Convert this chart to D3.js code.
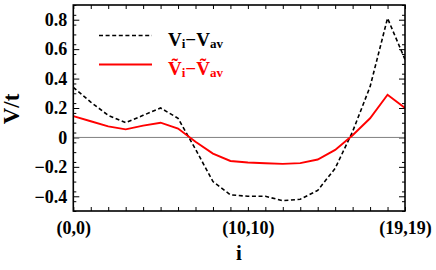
<!DOCTYPE html>
<html>
<head>
<meta charset="utf-8">
<script src="https://cdn.jsdelivr.net/npm/d3@7"></script>
<style>
  body { margin: 0; background: #fff; }
  text { font-family: "Liberation Serif", "Times New Roman", serif; font-weight: bold; }
</style>
</head>
<body>
<div id="chart"></div>
<script>
// site index along the diagonal (0,0) -> (19,19)
var sites = [0, 1, 2, 3, 4, 5, 6, 7, 8, 9, 10, 11, 12, 13, 14, 15, 16, 17, 18, 19];
var vDiff = [0.34, 0.24, 0.15, 0.10, 0.15, 0.20, 0.13, -0.08, -0.30, -0.39,
             -0.40, -0.40, -0.43, -0.42, -0.36, -0.21, 0.04, 0.345, 0.81, 0.53];
var vTildeDiff = [0.145, 0.11, 0.075, 0.055, 0.08, 0.10, 0.06, -0.03, -0.11, -0.16,
                  -0.17, -0.175, -0.18, -0.175, -0.15, -0.085, 0.015, 0.13, 0.29, 0.20];
var xTickValues = [0, 10, 19];
var xTickLabels = ["(0,0)", "(10,10)", "(19,19)"];
var yTickValues = [-0.4, -0.2, 0, 0.2, 0.4, 0.6, 0.8];

var width = 436, height = 270;
var plotLeft = 73.3, plotRight = 405, plotTop = 5, plotBottom = 211;

var svg = d3.select("#chart").append("svg")
    .attr("width", width)
    .attr("height", height);

var x = d3.scaleLinear().domain([0, 19]).range([plotLeft, plotRight]);
var y = d3.scaleLinear().domain([-0.5, 0.9]).range([plotBottom, plotTop]);

var fmt = function (d) { return d === 0 ? "0" : d3.format(".1f")(d); };
var minorY = d3.range(-0.5, 0.9001, 0.2 / 3);

// minor ticks (left and right)
svg.append("g")
    .attr("transform", "translate(" + plotLeft + ",0)")
    .call(d3.axisLeft(y).tickValues(minorY).tickSize(-3).tickFormat(""))
    .call(function (g) { g.select(".domain").remove(); });
svg.append("g")
    .attr("transform", "translate(" + plotRight + ",0)")
    .call(d3.axisRight(y).tickValues(minorY).tickSize(-3).tickFormat(""))
    .call(function (g) { g.select(".domain").remove(); });

// major y ticks
svg.append("g")
    .attr("class", "y axis")
    .attr("transform", "translate(" + plotLeft + ",0)")
    .call(d3.axisLeft(y).tickValues(yTickValues).tickSize(-6).tickPadding(6).tickFormat(fmt))
    .call(function (g) {
        g.select(".domain").remove();
        g.selectAll("text").style("font-size", "18px").attr("fill", "#000");
    });
svg.append("g")
    .attr("transform", "translate(" + plotRight + ",0)")
    .call(d3.axisRight(y).tickValues(yTickValues).tickSize(-6).tickFormat(""))
    .call(function (g) { g.select(".domain").remove(); });

// x ticks at every site, labels at three of them
svg.append("g")
    .attr("class", "x axis")
    .attr("transform", "translate(0," + plotBottom + ")")
    .call(d3.axisBottom(x).tickValues(sites).tickSize(-4).tickPadding(10)
        .tickFormat(function (d) {
            var k = xTickValues.indexOf(d);
            return k >= 0 ? xTickLabels[k] : "";
        }))
    .call(function (g) {
        g.select(".domain").remove();
        g.selectAll("text").style("font-size", "18px").attr("fill", "#000");
    });
svg.append("g")
    .attr("transform", "translate(0," + plotTop + ")")
    .call(d3.axisTop(x).tickValues(sites).tickSize(-4).tickFormat(""))
    .call(function (g) { g.select(".domain").remove(); });

svg.selectAll(".tick line").attr("stroke", "#000").attr("stroke-width", 1);

// zero line
svg.append("line")
    .attr("x1", plotLeft).attr("x2", plotRight)
    .attr("y1", y(0)).attr("y2", y(0))
    .attr("stroke", "#808080")
    .attr("stroke-width", 1);

svg.append("clipPath").attr("id", "clip")
    .append("rect")
    .attr("x", plotLeft).attr("y", plotTop)
    .attr("width", plotRight - plotLeft).attr("height", plotBottom - plotTop);

var line = d3.line()
    .x(function (d, i) { return x(sites[i]); })
    .y(function (d) { return y(d); });

svg.append("path")
    .datum(vDiff)
    .attr("clip-path", "url(#clip)")
    .attr("fill", "none")
    .attr("stroke", "#000")
    .attr("stroke-width", 1.6)
    .attr("stroke-dasharray", "4,2.6")
    .attr("d", line);

svg.append("path")
    .datum(vTildeDiff)
    .attr("clip-path", "url(#clip)")
    .attr("fill", "none")
    .attr("stroke", "#ff0000")
    .attr("stroke-width", 1.9)
    .attr("d", line);

// frame
svg.append("rect")
    .attr("x", plotLeft).attr("y", plotTop)
    .attr("width", plotRight - plotLeft).attr("height", plotBottom - plotTop)
    .attr("fill", "none")
    .attr("stroke", "#000")
    .attr("stroke-width", 1.6);

// axis titles
svg.append("text")
    .attr("transform", "translate(19,109) rotate(-90)")
    .attr("text-anchor", "middle")
    .style("font-size", "23px")
    .text("V/t");

svg.append("text")
    .attr("x", 239)
    .attr("y", 260)
    .attr("text-anchor", "middle")
    .style("font-size", "21px")
    .text("i");

// legend
var legendItems = [
    { base: "V", color: "#000", dash: "4,2.6", y: 35.5 },
    { base: "V\u0303", color: "#ff0000", dash: null, y: 64.5 }
];

var legend = svg.selectAll(".legend")
    .data(legendItems)
    .enter().append("g")
    .attr("class", "legend");

legend.append("line")
    .attr("x1", 99).attr("x2", 152)
    .attr("y1", function (d) { return d.y; })
    .attr("y2", function (d) { return d.y; })
    .attr("stroke", function (d) { return d.color; })
    .attr("stroke-width", function (d) { return d.dash ? 1.6 : 1.9; })
    .attr("stroke-dasharray", function (d) { return d.dash; });

var lt = legend.append("text")
    .attr("x", 168)
    .attr("y", function (d) { return d.y + 10; })
    .attr("fill", function (d) { return d.color; })
    .style("font-size", "19px");
lt.append("tspan").text(function (d) { return d.base; });
lt.append("tspan").attr("dy", 2).style("font-size", "13px").text("i");
lt.append("tspan").attr("dy", -2).text(function (d) { return "\u2212" + d.base; });
lt.append("tspan").attr("dy", 2).style("font-size", "13px").text("av");
</script>
</body>
</html>
